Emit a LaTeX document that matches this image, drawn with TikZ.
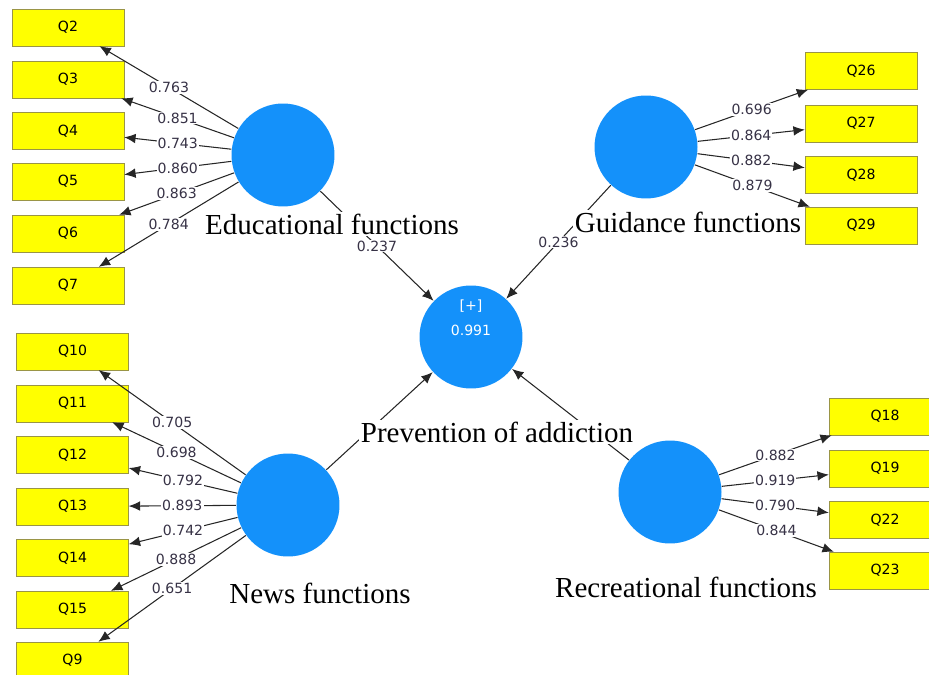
\documentclass[tikz,border=0pt]{standalone}
\usepackage{fontspec}
\setmainfont{Liberation Serif}
\setsansfont{DejaVu Sans}
\usetikzlibrary{arrows.meta}
\definecolor{lvblue}{RGB}{20,145,250}
\definecolor{mvyellow}{RGB}{255,255,0}
\definecolor{ldgray}{RGB}{55,50,70}
\begin{document}
\begin{tikzpicture}[x=0.02cm, y=-0.02cm,
	lv/.style={circle, fill=lvblue, minimum size=2.06cm, inner sep=0pt},
	mv/.style={rectangle, fill=mvyellow, draw=yellow!55!black, very thin, minimum width=2.24cm, minimum height=0.74cm, inner sep=0pt, font=\sffamily\fontsize{8}{9}\selectfont, text=black},
	lbl/.style={fill=white, inner sep=1pt, text=black, font=\rmfamily\fontsize{16.5}{18}\selectfont},
	ld/.style={fill=white, inner sep=0.6pt, font=\sffamily\fontsize{8}{9}\selectfont, text=ldgray},
	every path/.style={black!85, line width=0.6pt, ->, >={Latex[length=6.5pt,width=5.5pt]}}]
			\useasboundingbox (0,0) rectangle (929,675);
			% constructs
			\node[lv] (edu) at (283,155) {};
			\node[lv] (gui) at (646,147) {};
			\node[lv, label={[name=prevval, text=white, font=\sffamily\fontsize{8}{9}\selectfont, align=center, yshift=11pt]center:{[+]\\[5pt]0.991}}] (prev) at (471,337) {};
			\node[lv] (news) at (288,505) {};
			\node[lv] (rec) at (670,492) {};
			% indicators
			\node[mv] (q2) at (68,27.5) {Q2};
			\node[mv] (q3) at (68,79.5) {Q3};
			\node[mv] (q4) at (68,131) {Q4};
			\node[mv] (q5) at (68,181.5) {Q5};
			\node[mv] (q6) at (68,233.5) {Q6};
			\node[mv] (q7) at (68,285.5) {Q7};
			\node[mv] (q10) at (72.5,351.5) {Q10};
			\node[mv] (q11) at (72.5,403.5) {Q11};
			\node[mv] (q12) at (72.5,455) {Q12};
			\node[mv] (q13) at (72.5,506.5) {Q13};
			\node[mv] (q14) at (72.5,558) {Q14};
			\node[mv] (q15) at (72.5,609.5) {Q15};
			\node[mv] (q9) at (72.5,660.5) {Q9};
			\node[mv] (q26) at (861,71) {Q26};
			\node[mv] (q27) at (861,123.5) {Q27};
			\node[mv] (q28) at (861,175) {Q28};
			\node[mv] (q29) at (861,225.5) {Q29};
			\node[mv] (q18) at (885,416.5) {Q18};
			\node[mv] (q19) at (885,468.5) {Q19};
			\node[mv] (q22) at (885,520) {Q22};
			\node[mv] (q23) at (885,570.5) {Q23};
			% outer loadings
			\draw (edu) -- node[ld] {0.763} (q2);
			\draw (edu) -- node[ld] {0.851} (q3);
			\draw (edu) -- node[ld] {0.743} (q4);
			\draw (edu) -- node[ld] {0.860} (q5);
			\draw (edu) -- node[ld] {0.863} (q6);
			\draw (edu) -- node[ld] {0.784} (q7);
			\draw (news) -- node[ld] {0.705} (q10);
			\draw (news) -- node[ld] {0.698} (q11);
			\draw (news) -- node[ld] {0.792} (q12);
			\draw (news) -- node[ld] {0.893} (q13);
			\draw (news) -- node[ld] {0.742} (q14);
			\draw (news) -- node[ld] {0.888} (q15);
			\draw (news) -- node[ld] {0.651} (q9);
			\draw (gui) -- node[ld] {0.696} (q26);
			\draw (gui) -- node[ld] {0.864} (q27);
			\draw (gui) -- node[ld] {0.882} (q28);
			\draw (gui) -- node[ld] {0.879} (q29);
			\draw (rec) -- node[ld] {0.882} (q18);
			\draw (rec) -- node[ld] {0.919} (q19);
			\draw (rec) -- node[ld] {0.790} (q22);
			\draw (rec) -- node[ld] {0.844} (q23);
			% path coefficients
			\draw (edu) -- node[ld] {0.237} (prev);
			\draw (gui) -- node[ld] {0.236} (prev);
			\draw (news) -- (prev);
			\draw (rec) -- (prev);
			% construct names
			\node[lbl] (edulbl) at (332,224) {Educational functions};
			\node[lbl] (guilbl) at (688,222) {Guidance functions};
			\node[lbl] (prevlbl) at (497,432) {Prevention of addiction};
			\node[lbl] (newslbl) at (320,593) {News functions};
			\node[lbl] (reclbl) at (686,587) {Recreational functions};
			\end{tikzpicture}
\end{document}
